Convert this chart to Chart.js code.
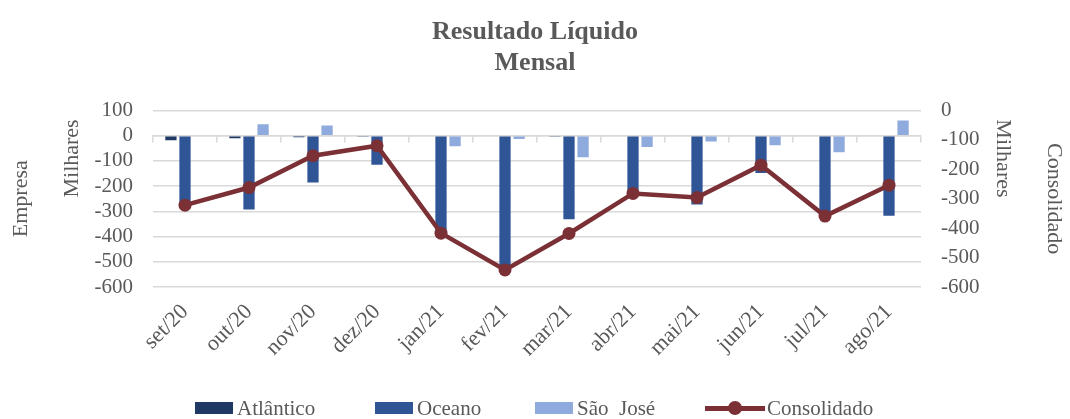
<!DOCTYPE html>
<html>
<head>
<meta charset="utf-8">
<script src="https://cdn.jsdelivr.net/npm/chart.js@4/dist/chart.umd.min.js"></script>
<style>
html,body{margin:0;padding:0;background:#fff;}
#wrap{position:relative;width:1070px;height:419px;overflow:hidden;}
#c{position:absolute;left:0;top:0;}
.lg{position:absolute;top:396px;height:24px;display:flex;align-items:center;font-family:"Liberation Serif",serif;font-size:21px;color:#595959;white-space:nowrap;}
.sw{display:inline-block;width:38px;height:12px;margin-right:4px;}
.ln{position:relative;display:inline-block;width:60px;height:14px;margin-right:2px;}
.ln:before{content:"";position:absolute;left:0;right:0;top:5px;height:4.5px;background:#7B3035;}
.ln:after{content:"";position:absolute;left:23px;top:0;width:14px;height:14px;border-radius:50%;background:#7B3035;}
</style>
</head>
<body>
<div id="wrap">
<canvas id="c" width="1070" height="419"></canvas>
<div class="lg" style="left:195px"><span class="sw" style="background:#203864"></span>Atlântico</div>
<div class="lg" style="left:375px"><span class="sw" style="background:#2F5597"></span>Oceano</div>
<div class="lg" style="left:535px"><span class="sw" style="background:#8FAADC"></span>São&nbsp; José</div>
<div class="lg" style="left:705px"><span class="ln"></span>Consolidado</div>
</div>
<script>
const categories = ['set/20','out/20','nov/20','dez/20','jan/21','fev/21','mar/21','abr/21','mai/21','jun/21','jul/21','ago/21'];
const atlantico  = [-18, -10, -6, -2, 0, 0, -2, 0, 0, 0, 0, 0];
const oceano     = [-276, -293, -186, -115, -382, -525, -331, -224, -273, -148, -315, -318];
const saoJose    = [0, 45, 40, 0, -42, -13, -86, -45, -23, -38, -66, 60];
const consolidado = [-322, -262, -154, -120, -417, -542, -418, -282, -296, -186, -359, -254];
const leftTicks  = [100, 0, -100, -200, -300, -400, -500, -600];
const rightTicks = [0, -100, -200, -300, -400, -500, -600];

const FONT = '"Liberation Serif", serif';
const GREY = '#595959';
const GRID = '#D9D9D9';

const milharesPlugin = {
  id: 'milhares',
  afterDraw(chart) {
    const ctx = chart.ctx, a = chart.chartArea;
    ctx.save();
    ctx.font = '22px ' + FONT;
    ctx.fillStyle = GREY;
    ctx.textAlign = 'center';
    ctx.textBaseline = 'middle';
    ctx.translate(a.left - 81, a.top + 48);
    ctx.rotate(-Math.PI / 2);
    ctx.fillText('Milhares', 0, 0);
    ctx.restore();
    ctx.save();
    ctx.font = '22px ' + FONT;
    ctx.fillStyle = GREY;
    ctx.textAlign = 'center';
    ctx.textBaseline = 'middle';
    ctx.translate(a.right + 82, a.top + 48);
    ctx.rotate(Math.PI / 2);
    ctx.fillText('Milhares', 0, 0);
    ctx.restore();
  }
};

new Chart(document.getElementById('c'), {
  data: {
    labels: categories,
    datasets: [
      { type: 'line', label: 'Consolidado', data: consolidado, yAxisID: 'y1', order: 0,
        borderColor: '#7B3035', backgroundColor: '#7B3035', borderWidth: 4.5,
        pointRadius: 6.5, pointBackgroundColor: '#7B3035', pointBorderWidth: 0, tension: 0 },
      { type: 'bar', label: 'Atlântico', data: atlantico, yAxisID: 'y', order: 1,
        backgroundColor: '#203864', categoryPercentage: 0.66, barPercentage: 0.8 },
      { type: 'bar', label: 'Oceano', data: oceano, yAxisID: 'y', order: 1,
        backgroundColor: '#2F5597', categoryPercentage: 0.66, barPercentage: 0.8 },
      { type: 'bar', label: 'São  José', data: saoJose, yAxisID: 'y', order: 1,
        backgroundColor: '#8FAADC', categoryPercentage: 0.66, barPercentage: 0.8 }
    ]
  },
  options: {
    responsive: false,
    animation: false,
    layout: { padding: { left: 0, right: 0, top: 0, bottom: 0 } },
    plugins: {
      legend: { display: false },
      tooltip: { enabled: false },
      title: {
        display: true,
        text: ['Resultado Líquido', 'Mensal'],
        color: GREY,
        font: { family: FONT, size: 26, weight: 'bold', lineHeight: 1.22 },
        padding: { top: 16, bottom: 31 }
      }
    },
    scales: {
      x: {
        type: 'category',
        offset: true,
        grid: { display: false },
        border: { display: false },
        ticks: { maxRotation: 45, minRotation: 45, autoSkip: false, padding: 4, color: GREY, font: { family: FONT, size: 22 } },
        afterFit(s) { s.height = 132; }
      },
      x2: {
        type: 'category',
        axis: 'x',
        labels: categories,
        position: { y: 0 },
        offset: true,
        grid: { offset: true, drawOnChartArea: false, drawTicks: true, tickLength: 6, color: GRID, lineWidth: 1.5 },
        border: { display: true, color: GRID, width: 1.5 },
        ticks: { display: false }
      },
      y: {
        position: 'left',
        min: -600, max: 100,
        afterBuildTicks(s) { s.ticks = leftTicks.map(v => ({ value: v })); },
        grid: { color: GRID, lineWidth: 1.5, drawTicks: false },
        border: { display: false },
        ticks: { autoSkip: false, padding: 20, color: GREY, font: { family: FONT, size: 21 } },
        title: { display: true, text: 'Empresa', color: GREY, font: { family: FONT, size: 22 }, padding: { top: 8, bottom: 0 } },
        afterFit(s) { s.width = 153; }
      },
      y1: {
        position: 'right',
        min: -600, max: 0,
        afterBuildTicks(s) { s.ticks = rightTicks.map(v => ({ value: v })); },
        grid: { drawOnChartArea: false, drawTicks: false },
        border: { display: false },
        ticks: { autoSkip: false, padding: 20, color: GREY, font: { family: FONT, size: 21 } },
        title: { display: true, text: 'Consolidado', color: GREY, font: { family: FONT, size: 22 }, padding: { top: 3, bottom: 0 } },
        afterFit(s) { s.width = 149; }
      }
    }
  },
  plugins: [milharesPlugin]
});
</script>
</body>
</html>
